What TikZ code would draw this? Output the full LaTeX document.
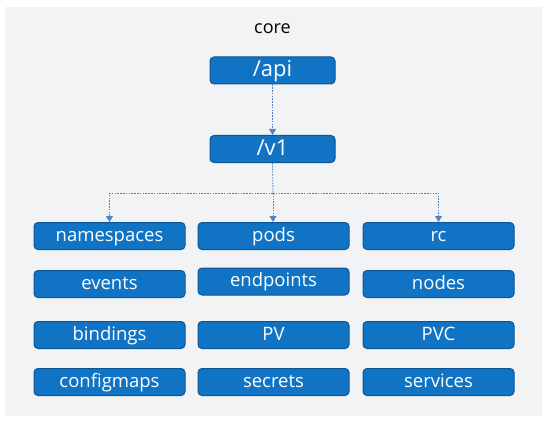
\documentclass[tikz,border=0pt]{standalone}
\usepackage{fontspec}
\setmainfont{Open Sans}
\usetikzlibrary{arrows.meta}
\definecolor{boxfill}{HTML}{1173C4}
\definecolor{boxline}{HTML}{0B5596}
\definecolor{conncol}{HTML}{4F86C2}
\definecolor{bggrey}{HTML}{F2F3F4}
\tikzset{
  box/.style={draw=boxline, fill=boxfill, line width=1pt, rounded corners=4pt,
    minimum width=151pt, minimum height=27pt, inner sep=0pt, text=white,
    font=\fontsize{18.5}{20}\selectfont, text height=13pt, text depth=3pt},
  topbox/.style={box, minimum width=125pt, font=\fontsize{22}{24}\selectfont,
    text height=16pt, text depth=3pt},
  conn/.style={draw=conncol, line width=0.8pt, dash pattern=on 1.6pt off 1.2pt},
  tip/.style={-{Triangle[width=7pt,length=6pt]}, conncol}
}
\begin{document}
\begin{tikzpicture}[x=1pt,y=-1pt]
\fill[white] (0,0) rectangle (553,422);
\useasboundingbox (0,0) rectangle (553,422);
\fill[bggrey] (5,7) rectangle (542,416);

\node[anchor=base, font=\fontsize{18}{20}\selectfont] (core) at (272.5,34) {core};
\node[topbox] (api) at (272.5,70.5) {/api};
\node[topbox] (v1) at (272.5,149) {/v1};

\node[box] (ns) at (109.5,236) {namespaces};
\node[box] (pods) at (273.5,236) {pods};
\node[box] (rc) at (438.5,236) {rc};

\node[box] (events) at (109.5,284) {events};
\node[box] (endp) at (273.5,281.5) {endpoints};
\node[box] (nodes) at (438.5,284) {nodes};

\node[box] (bind) at (109.5,335) {bindings};
\node[box] (pv) at (273.5,335) {PV};
\node[box] (pvc) at (438.5,335) {PVC};

\node[box] (cm) at (109.5,382) {configmaps};
\node[box] (sec) at (273.5,382) {secrets};
\node[box] (svc) at (438.5,382) {services};

\coordinate (hub) at (273,193);

\draw[conn, tip] (api.south) -- (v1.north);
\draw[conn] (v1.south) -- (hub);
\draw[conn, tip] (hub) -| (ns.north);
\draw[conn, tip] (hub) -| (rc.north);
\draw[conn, tip] (hub) -- (pods.north -| hub);
\end{tikzpicture}
\end{document}
